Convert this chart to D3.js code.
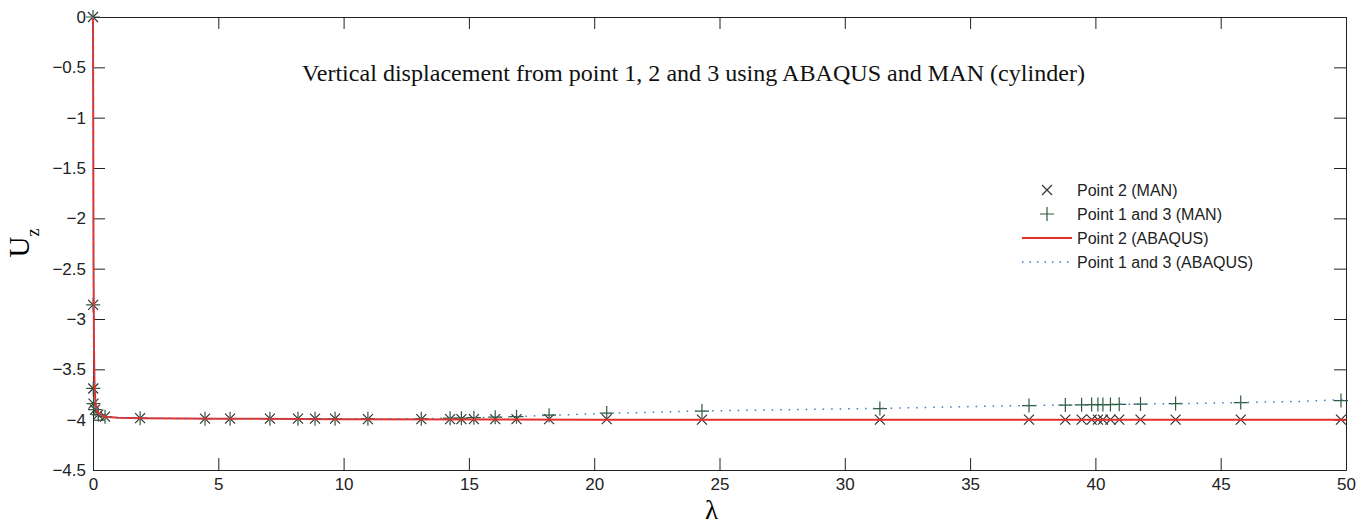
<!DOCTYPE html>
<html>
<head>
<meta charset="utf-8">
<script src="https://cdn.jsdelivr.net/npm/d3@7"></script>
<style>
  body { margin: 0; background: #fff; }
  .tick text { font-family: "Liberation Sans", Arial, sans-serif; font-size: 17px; fill: #222; }
  .tick line, .domain { stroke: #222; }
</style>
</head>
<body>
<div id="chart"></div>
<script>
// MAN results (markers)
var lamMan = [0, 0.005, 0.01, 0.02, 0.08, 0.21, 0.48, 1.88, 4.47, 5.47, 7.06, 8.18, 8.86, 9.66, 10.97,
  13.1, 14.25, 14.7, 15.2, 16.05, 16.9, 18.2, 20.5, 24.3, 31.4, 37.35, 38.8, 39.45, 39.85, 40.1, 40.3,
  40.6, 40.95, 41.8, 43.2, 45.8, 49.8];
var uzPoint2Man = [0, -2.86, -3.69, -3.84, -3.90, -3.95, -3.97, -3.985, -3.99, -3.99, -3.99, -3.99, -3.99, -3.99, -3.995,
  -3.995, -3.995, -3.995, -3.995, -3.995, -3.995, -3.995, -3.995, -4.0, -4.0, -4.0, -4.0, -4.0, -4.0, -4.0, -4.0,
  -4.0, -4.0, -4.0, -4.0, -4.0, -4.0];
var uzPoint13Man = [0, -2.86, -3.69, -3.84, -3.90, -3.95, -3.97, -3.985, -3.99, -3.99, -3.99, -3.99, -3.99, -3.99, -3.99,
  -3.99, -3.985, -3.985, -3.98, -3.975, -3.97, -3.955, -3.935, -3.915, -3.89, -3.86, -3.855, -3.853, -3.85, -3.85, -3.85,
  -3.85, -3.848, -3.845, -3.84, -3.83, -3.81];

// ABAQUS results (lines)
var lamAbq2 = [0, 0.01, 0.02, 0.04, 0.06, 0.1, 0.15, 0.25, 0.5, 1, 2, 5, 10, 20, 30, 40, 50];
var uzAbq2 = [0, -1.2, -2.4, -3.3, -3.65, -3.84, -3.9, -3.945, -3.97, -3.98, -3.985, -3.99, -3.995, -4.0, -4.0, -4.0, -4.0];
var lamAbq13 = [0, 0.01, 0.02, 0.04, 0.06, 0.1, 0.15, 0.25, 0.5, 1, 2, 5, 10, 13, 15, 17, 19, 21, 24, 28, 32, 36, 40, 44, 48, 50];
var uzAbq13 = [0, -1.2, -2.4, -3.3, -3.65, -3.84, -3.9, -3.945, -3.97, -3.98, -3.985, -3.99, -3.99, -3.99, -3.983, -3.968,
  -3.95, -3.935, -3.915, -3.90, -3.885, -3.865, -3.85, -3.838, -3.82, -3.80];

var xTicks = [0, 5, 10, 15, 20, 25, 30, 35, 40, 45, 50];
var yTicks = [0, -0.5, -1, -1.5, -2, -2.5, -3, -3.5, -4, -4.5];
var legendLabels = ["Point 2 (MAN)", "Point 1 and 3 (MAN)", "Point 2 (ABAQUS)", "Point 1 and 3 (ABAQUS)"];

var titleText = "Vertical displacement from point 1, 2 and 3 using ABAQUS and MAN (cylinder)";

var colX = "#333333", colPlus = "#2f5a3c", colRed = "#e5302a", colBlue = "#3d78c0";

// set the dimensions and margins of the graph
var margin = { top: 17, right: 24, bottom: 54, left: 93 },
    width = 1370 - margin.left - margin.right,
    height = 524 - margin.top - margin.bottom;

var svg = d3.select("#chart")
    .append("svg")
    .attr("width", width + margin.left + margin.right)
    .attr("height", height + margin.top + margin.bottom)
    .append("g")
    .attr("transform", "translate(" + margin.left + "," + margin.top + ")");

var x = d3.scaleLinear().domain([0, 50]).range([0, width]);
var y = d3.scaleLinear().domain([-4.5, 0]).range([height, 0]);

// axes, ticks pointing inwards on all four sides
svg.append("g")
    .attr("transform", "translate(0," + height + ")")
    .call(d3.axisBottom(x).tickValues(xTicks).tickSizeInner(-12).tickSizeOuter(0).tickPadding(8).tickFormat(d3.format("")));
svg.append("g")
    .call(d3.axisTop(x).tickValues(xTicks).tickSizeInner(-12).tickSizeOuter(0).tickFormat(""));
svg.append("g")
    .call(d3.axisLeft(y).tickValues(yTicks).tickSizeInner(-12).tickSizeOuter(0).tickPadding(7).tickFormat(d3.format("")));
svg.append("g")
    .attr("transform", "translate(" + width + ",0)")
    .call(d3.axisRight(y).tickValues(yTicks).tickSizeInner(-12).tickSizeOuter(0).tickFormat(""));

// marker shapes
function crossPath(s) { return "M" + (-s) + "," + (-s) + "L" + s + "," + s + "M" + (-s) + "," + s + "L" + s + "," + (-s); }
function plusPath(s) { return "M" + (-s) + ",0H" + s + "M0," + (-s) + "V" + s; }

var man = lamMan.map(function(l, i) { return { l: l, p2: uzPoint2Man[i], p13: uzPoint13Man[i] }; });

svg.append("g").selectAll("path")
    .data(man).enter().append("path")
    .attr("transform", function(d) { return "translate(" + x(d.l) + "," + y(d.p2) + ")"; })
    .attr("d", crossPath(5))
    .attr("stroke", colX).attr("stroke-width", 1.2).attr("fill", "none");

svg.append("g").selectAll("path")
    .data(man).enter().append("path")
    .attr("transform", function(d) { return "translate(" + x(d.l) + "," + y(d.p13) + ")"; })
    .attr("d", plusPath(7))
    .attr("stroke", colPlus).attr("stroke-width", 1.2).attr("fill", "none");

// lines
var line = d3.line().x(function(d) { return x(d[0]); }).y(function(d) { return y(d[1]); });

svg.append("path")
    .datum(lamAbq2.map(function(l, i) { return [l, uzAbq2[i]]; }))
    .attr("d", line)
    .attr("fill", "none").attr("stroke", colRed).attr("stroke-width", 2);

svg.append("path")
    .datum(lamAbq13.map(function(l, i) { return [l, uzAbq13[i]]; }))
    .attr("d", line)
    .attr("fill", "none").attr("stroke", colBlue).attr("stroke-width", 1.5)
    .attr("stroke-dasharray", "1.5,7");

// title
svg.append("text")
    .attr("x", 302 - margin.left)
    .attr("y", 81 - margin.top)
    .attr("textLength", 783)
    .attr("lengthAdjust", "spacingAndGlyphs")
    .attr("font-family", "Liberation Serif, Times New Roman, serif")
    .attr("font-size", "23px")
    .attr("fill", "#111")
    .text(titleText);

// legend
var lg = svg.append("g").attr("transform", "translate(" + (1022 - margin.left) + "," + (190 - margin.top) + ")");
var rowH = 24;
legendLabels.forEach(function(t, i) {
    var yy = i * rowH;
    if (i === 0) lg.append("path").attr("transform", "translate(25," + yy + ")").attr("d", crossPath(5))
        .attr("stroke", colX).attr("stroke-width", 1.2).attr("fill", "none");
    if (i === 1) lg.append("path").attr("transform", "translate(25," + yy + ")").attr("d", plusPath(7))
        .attr("stroke", colPlus).attr("stroke-width", 1.2).attr("fill", "none");
    if (i === 2) lg.append("line").attr("x1", 0).attr("x2", 50).attr("y1", yy).attr("y2", yy)
        .attr("stroke", colRed).attr("stroke-width", 2);
    if (i === 3) lg.append("line").attr("x1", 0).attr("x2", 50).attr("y1", yy).attr("y2", yy)
        .attr("stroke", colBlue).attr("stroke-width", 1.5).attr("stroke-dasharray", "1.5,6");
    lg.append("text")
        .attr("x", 55).attr("y", yy).attr("dy", "0.35em")
        .attr("font-family", "Liberation Sans, Arial, sans-serif")
        .attr("font-size", "16px").attr("fill", "#222")
        .text(t);
});

// axis labels
svg.append("text")
    .attr("x", width / 2 - 8)
    .attr("y", height + 49)
    .attr("text-anchor", "middle")
    .attr("font-family", "Liberation Serif, Times New Roman, serif")
    .attr("font-size", "27px")
    .text("λ");

var yl = svg.append("text")
    .attr("transform", "translate(" + (29 - margin.left) + "," + (243 - margin.top) + ") rotate(-90)")
    .attr("text-anchor", "middle")
    .attr("font-family", "Liberation Serif, Times New Roman, serif")
    .attr("font-size", "29px");
yl.append("tspan").text("U");
yl.append("tspan").attr("dy", 10).attr("font-size", "18px").text("z");
</script>
</body>
</html>
